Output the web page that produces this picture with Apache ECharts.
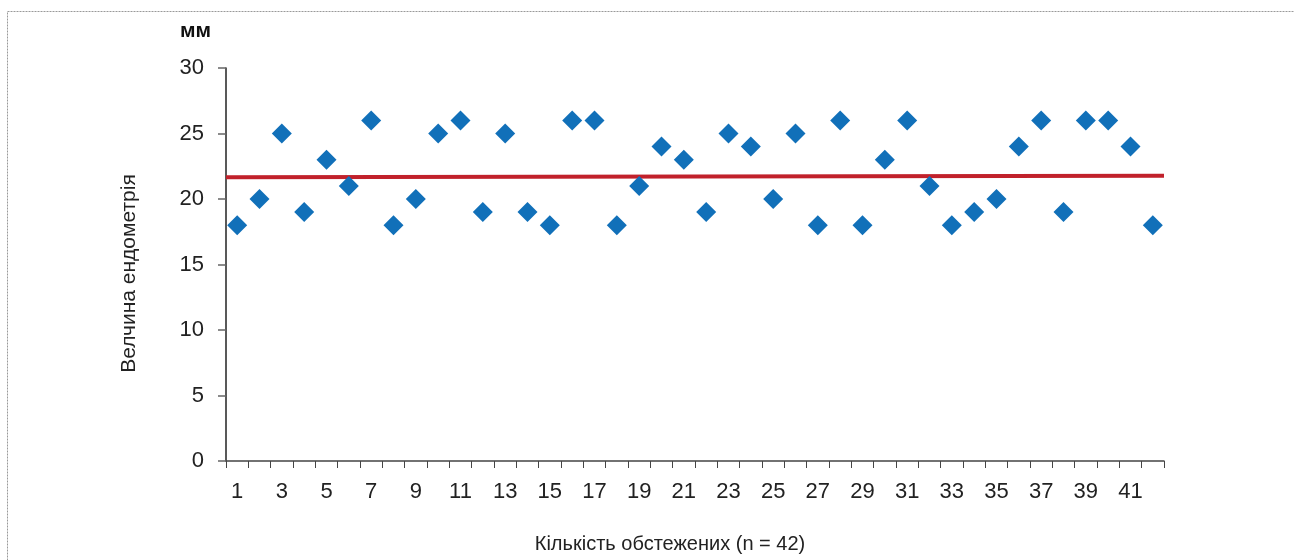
<!DOCTYPE html>
<html><head><meta charset="utf-8">
<script src="https://cdn.jsdelivr.net/npm/echarts@6/dist/echarts.min.js"></script>
<style>html,body{margin:0;padding:0;background:#fff}#c{width:1294px;height:560px}</style>
</head><body><div id="c"></div>
<script>
const categories = Array.from({length:42},(_,i)=>String(i+1));
const thickness = [18,20,25,19,23,21,26,18,20,25,26,19,25,19,18,26,26,18,21,24,23,19,25,24,20,25,18,26,18,23,26,21,18,19,20,24,26,19,26,26,24,18];
const trendX = [0.5, 42.5];
const trendY = [21.66, 21.78];
const yTicks = {min:0, max:30, interval:5};
const FONT = '"Liberation Sans Narrow","Liberation Sans",Arial,sans-serif';

const chart = echarts.init(document.getElementById('c'), null, {renderer:'canvas'});
chart.setOption({
  animation:false,
  backgroundColor:'#fff',
  grid:{left:226, right:130, top:68, bottom:99},
  graphic:[
    {type:'rect', shape:{x:7.5, y:11.5, width:1300, height:560}, style:{fill:'none', stroke:'#999', lineWidth:1, lineDash:[2,1]}, silent:true},
    {type:'text', x:180, y:21, style:{text:'мм', font:'bold 21px "Liberation Sans",Arial,sans-serif', fill:'#111', verticalAlign:'top'}}
  ],
  xAxis:[{
    type:'category', data:categories, boundaryGap:true,
    name:'Кількість обстежених (n = 42)', nameLocation:'middle', nameGap:73,
    nameTextStyle:{fontFamily:FONT, fontSize:20, color:'#222', padding:[0,50,0,0]},
    axisLine:{lineStyle:{color:'#444', width:1.5}},
    axisTick:{show:true, interval:0, length:7, lineStyle:{color:'#444'}},
    axisLabel:{interval:1, margin:20, fontFamily:FONT, fontSize:22, color:'#222'},
    splitLine:{show:false}
  },{
    type:'value', min:0.5, max:42.5, show:false
  }],
  yAxis:{
    type:'value', min:yTicks.min, max:yTicks.max, interval:yTicks.interval,
    name:'Велчина ендометрія', nameLocation:'middle', nameGap:86, nameRotate:90,
    nameTextStyle:{fontFamily:FONT, fontSize:21, color:'#222', padding:[0,18,0,0]},
    axisLine:{show:true, lineStyle:{color:'#222', width:1.5}},
    axisTick:{show:true, length:8, lineStyle:{color:'#666', width:1.5}},
    axisLabel:{margin:22, fontFamily:FONT, fontSize:22, color:'#222'},
    splitLine:{show:false}
  },
  series:[{
    type:'scatter', xAxisIndex:0, data:thickness,
    symbol:'diamond', symbolSize:20,
    itemStyle:{color:'#1170b9', opacity:1}
  },{
    type:'line', xAxisIndex:1, data:trendX.map((x,i)=>[x,trendY[i]]),
    symbol:'none', lineStyle:{color:'#c1212b', width:4}, z:1
  }]
});
</script></body></html>
